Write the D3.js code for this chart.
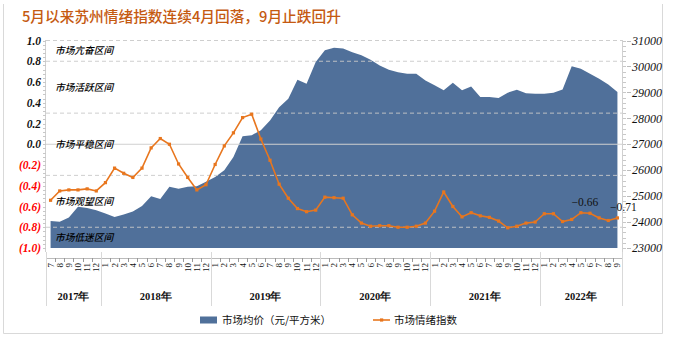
<!DOCTYPE html>
<html><head><meta charset="utf-8">
<script src="https://cdn.jsdelivr.net/npm/d3@7"></script>
<style>body{margin:0;background:#fff;}svg{display:block;}</style>
</head><body>
<svg id="c" width="674" height="341"></svg>
<script>
const title = "5月以来苏州情绪指数连续4月回落，9月止跌回升";
const years = ["2017年","2018年","2019年","2020年","2021年","2022年"];
const yearMonthCounts = [6,12,12,12,12,9];
const firstMonth = 7;
const price = [24040,24010,24180,24590,24540,24460,24330,24200,24290,24410,24620,25000,24885,25360,25280,25360,25385,25550,25740,26000,26510,27310,27350,27540,27920,28430,28750,29490,29330,30170,30620,30720,30690,30550,30430,30260,30040,29870,29780,29720,29720,29460,29270,29080,29370,29080,29230,28820,28820,28780,28990,29100,28970,28950,28950,28990,29115,30010,29910,29720,29530,29300,29010];
const sentiment = [-0.54,-0.45,-0.44,-0.44,-0.43,-0.45,-0.37,-0.23,-0.28,-0.32,-0.23,-0.035,0.055,0.0,-0.19,-0.32,-0.44,-0.39,-0.195,-0.016,0.11,0.257,0.29,0.05,-0.154,-0.385,-0.52,-0.62,-0.65,-0.635,-0.51,-0.515,-0.52,-0.68,-0.76,-0.79,-0.785,-0.785,-0.80,-0.80,-0.79,-0.76,-0.645,-0.46,-0.60,-0.70,-0.66,-0.69,-0.705,-0.74,-0.805,-0.79,-0.76,-0.75,-0.67,-0.67,-0.745,-0.725,-0.66,-0.665,-0.71,-0.735,-0.71];
const leftTicks = [1.0,0.8,0.6,0.4,0.2,0.0,-0.2,-0.4,-0.6,-0.8,-1.0];
const rightTicks = [23000,24000,25000,26000,27000,28000,29000,30000,31000];
const gridDashed = [1.0,0.8,0.3,-0.3,-0.8];
const zones = [{name:"市场亢奋区间",v:0.9},{name:"市场活跃区间",v:0.55},{name:"市场平稳区间",v:0.0},{name:"市场观望区间",v:-0.55},{name:"市场低迷区间",v:-0.9}];
const dataLabels = [{i:58,text:"−0.66",dx:4},{i:62,text:"−0.71",dx:6}];
const legendNames = ["市场均价（元/平方米）","市场情绪指数"];

// build month labels
const monthLabels = [];
let m = firstMonth;
yearMonthCounts.forEach(c=>{for(let k=0;k<c;k++){monthLabels.push(String(m)); m = m%12+1;}});
const idx = d3.range(price.length);

const svg = d3.select("#c");
const blue = "#50709a", orange = "#e8761e";
const serif = "'Liberation Serif','DejaVu Serif',serif";
const cjk = "'Noto Sans CJK SC',sans-serif";

// frame
svg.append("path").attr("d","M3.5,4 V333.5 H662.5 V4").attr("fill","none").attr("stroke","#d9d9d9");

svg.append("text").attr("x",22).attr("y",22).attr("fill","#c55a11")
  .style("font-family",cjk).style("font-size","14.7px").style("font-weight","500").text(title);

const x = d3.scaleBand().domain(idx).range([46,622]).padding(0);
const cx = i => x(i)+x.bandwidth()/2;
const yL = d3.scaleLinear().domain([-1,1]).range([248,40.5]);
const yR = d3.scaleLinear().domain([23000,31000]).range([248,40.5]);

// area
svg.append("path").datum(idx)
  .attr("d", d3.area().x(i=>cx(i)).y0(yR(23000)).y1(i=>yR(price[i])))
  .attr("fill",blue);

// grid
svg.selectAll(".gd").data(gridDashed).join("line")
  .attr("x1",46).attr("x2",622).attr("y1",d=>yL(d)).attr("y2",d=>yL(d))
  .attr("stroke","#c8c8c8").attr("stroke-width",0.9).attr("stroke-dasharray","4,3");
svg.append("line").attr("x1",46).attr("x2",622).attr("y1",yL(0)).attr("y2",yL(0))
  .attr("stroke","#d0d0d0").attr("stroke-width",1);

// zone labels
svg.selectAll(".zn").data(zones).join("text")
  .attr("x",55).attr("y",d=>yL(d.v)).attr("dy","0.35em")
  .style("font-family",cjk).style("font-size","9.7px").style("font-style","italic").style("font-weight","500").attr("fill","#000")
  .text(d=>d.name);

// line
svg.append("path").datum(idx)
  .attr("d", d3.line().x(i=>cx(i)).y(i=>yL(sentiment[i])))
  .attr("fill","none").attr("stroke",orange).attr("stroke-width",1.6);
svg.selectAll(".mk").data(idx).join("rect")
  .attr("x",i=>cx(i)-1.6).attr("y",i=>yL(sentiment[i])-1.6).attr("width",3.2).attr("height",3.2)
  .attr("fill",orange);

// data labels
svg.selectAll(".dl").data(dataLabels).join("text")
  .attr("x",d=>cx(d.i)+d.dx).attr("y",d=>yL(sentiment[d.i])-7)
  .attr("text-anchor","middle").style("font-family",serif).style("font-size","11.5px").attr("fill","#111")
  .text(d=>d.text);

// left axis
const gL = svg.append("g");
gL.append("line").attr("x1",45.5).attr("x2",45.5).attr("y1",40).attr("y2",252).attr("stroke","#d0d0d0");
gL.selectAll(".mn").data(d3.range(-1,1.0001,0.04)).join("line")
  .attr("x1",43).attr("x2",46).attr("y1",d=>Math.round(yL(d))+0.5).attr("y2",d=>Math.round(yL(d))+0.5)
  .attr("stroke","#c8c8c8");
gL.selectAll(".lt").data(leftTicks).join("text")
  .attr("x",41).attr("y",d=>yL(d)).attr("dy","0.35em").attr("text-anchor","end")
  .style("font-family",serif).style("font-size","11.5px").style("font-style","italic").style("font-weight","bold")
  .attr("fill",d=>d< -0.001?"#ff0000":"#111")
  .text(d=>d< -0.001?"("+Math.abs(d).toFixed(1)+")":d.toFixed(1));

// right axis
const gR = svg.append("g");
gR.append("line").attr("x1",622.5).attr("x2",622.5).attr("y1",40).attr("y2",270).attr("stroke","#d0d0d0");
gR.selectAll(".mn").data(d3.range(23000,31001,200)).join("line")
  .attr("x1",623).attr("x2",626).attr("y1",d=>Math.round(yR(d))+0.5).attr("y2",d=>Math.round(yR(d))+0.5)
  .attr("stroke","#c8c8c8");
gR.selectAll(".mj").data(rightTicks).join("line")
  .attr("x1",627).attr("x2",631).attr("y1",d=>Math.round(yR(d))+0.5).attr("y2",d=>Math.round(yR(d))+0.5)
  .attr("stroke","#bbb");
gR.selectAll(".rt").data(rightTicks).join("text")
  .attr("x",632).attr("y",d=>yR(d)).attr("dy","0.35em")
  .style("font-family",serif).style("font-size","12px").style("font-style","italic").attr("fill","#111")
  .text(d=>d);

// x axis
const gX = svg.append("g");
gX.append("line").attr("x1",46).attr("x2",622).attr("y1",258.5).attr("y2",258.5).attr("stroke","#bbb");
gX.selectAll(".tk").data(d3.range(price.length+1)).join("line")
  .attr("x1",i=>Math.round(46+i*x.bandwidth())+0.5).attr("x2",i=>Math.round(46+i*x.bandwidth())+0.5)
  .attr("y1",258).attr("y2",262).attr("stroke","#999");
gX.selectAll(".ml").data(idx).join("text")
  .attr("transform",i=>`translate(${cx(i)+3},263) rotate(-90)`).attr("text-anchor","end")
  .style("font-family",serif).style("font-size","9px").attr("fill","#111")
  .text(i=>monthLabels[i]);
// year separators and labels
let start = 0;
const bounds = [0];
yearMonthCounts.forEach(c=>{start+=c; bounds.push(start);});
gX.selectAll(".ys").data(bounds).join("line")
  .attr("x1",b=>Math.round(46+b*x.bandwidth())+0.5).attr("x2",b=>Math.round(46+b*x.bandwidth())+0.5)
  .attr("y1",252).attr("y2",306).attr("stroke","#d9d9d9");
gX.selectAll(".yl").data(years).join("text")
  .attr("x",(d,k)=>46+(bounds[k]+bounds[k+1])/2*x.bandwidth()).attr("y",296).attr("dy","0.35em")
  .attr("text-anchor","middle").style("font-family",serif).style("font-size","10.5px").style("font-weight","bold")
  .attr("fill","#111").text(d=>d);

// legend
const lg = svg.append("g");
lg.append("rect").attr("x",200).attr("y",316.5).attr("width",17).attr("height",7).attr("fill",blue);
lg.append("text").attr("x",222).attr("y",320).attr("dy","0.35em")
  .style("font-family",cjk).style("font-size","10.5px").attr("fill","#111").text(legendNames[0]);
lg.append("line").attr("x1",373).attr("x2",390).attr("y1",320).attr("y2",320).attr("stroke",orange).attr("stroke-width",1.6);
lg.append("rect").attr("x",380).attr("y",318.4).attr("width",3.2).attr("height",3.2).attr("fill",orange);
lg.append("text").attr("x",394).attr("y",320).attr("dy","0.35em")
  .style("font-family",cjk).style("font-size","10.5px").attr("fill","#111").text(legendNames[1]);
</script>
</body></html>
